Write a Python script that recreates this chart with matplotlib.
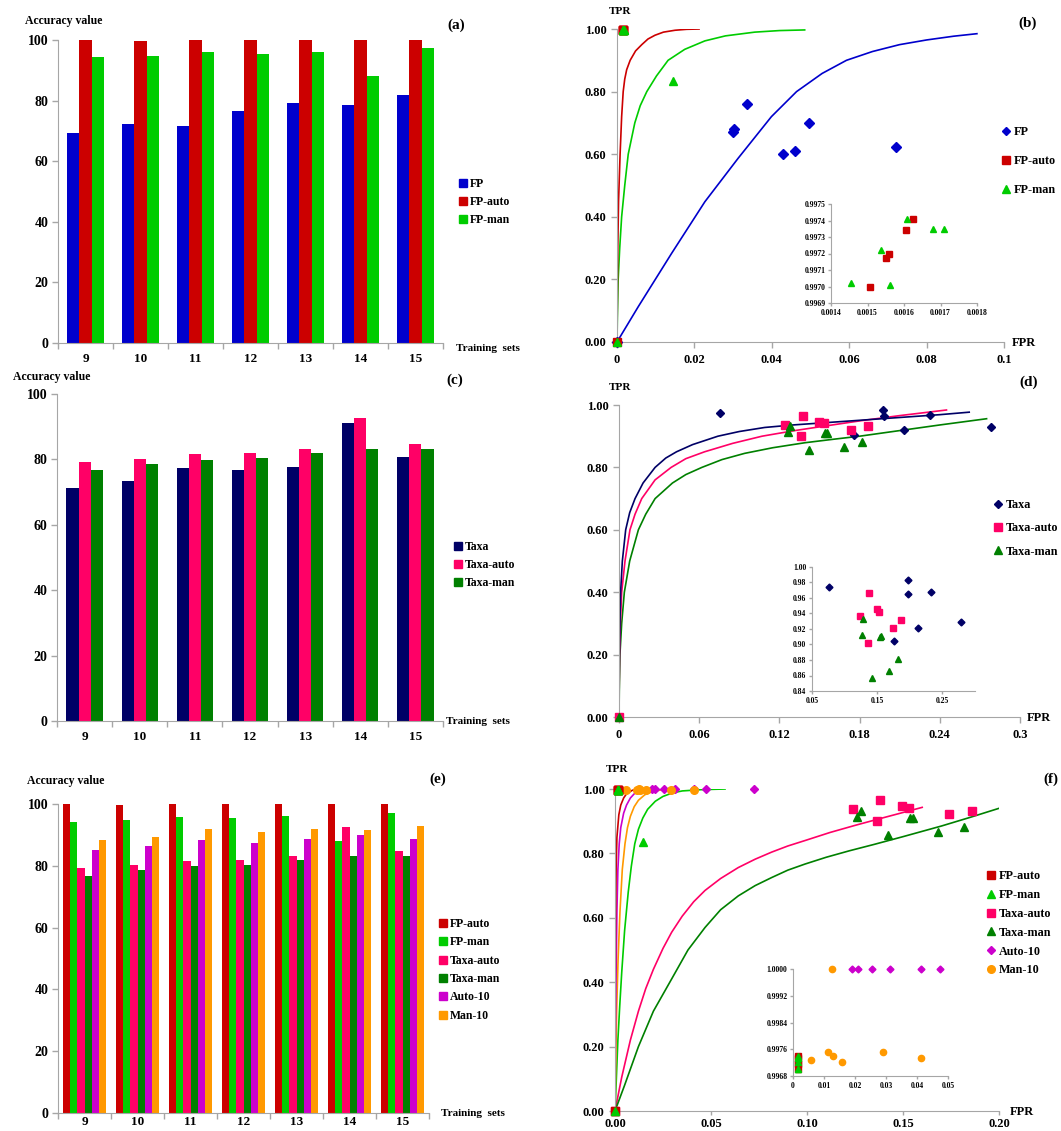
import numpy as np
import matplotlib.pyplot as plt
from matplotlib.patches import Patch
from matplotlib.lines import Line2D

plt.rcParams['font.family'] = ['Liberation Serif', 'DejaVu Serif']
plt.rcParams['font.weight'] = 'bold'

# ---- accuracy bars (training sets 9..15) ----
sets = ['9', '10', '11', '12', '13', '14', '15']
acc_fp = [69.2, 72.2, 71.6, 76.6, 79.1, 78.7, 81.7]
acc_fp_auto = [100, 99.7, 100, 100, 100, 100, 100]
acc_fp_man = [94.3, 94.8, 95.9, 95.4, 96.0, 88.0, 97.2]
acc_taxa = [71.2, 73.3, 77.4, 76.9, 77.8, 91.0, 80.6]
acc_taxa_auto = [79.3, 80.1, 81.5, 82.0, 83.3, 92.7, 84.7]
acc_taxa_man = [76.7, 78.5, 79.8, 80.4, 81.9, 83.2, 83.3]
acc_auto10 = [85.0, 86.3, 88.5, 87.3, 88.8, 90.1, 88.8]
acc_man10 = [88.3, 89.2, 92.0, 90.8, 92.0, 91.7, 92.9]

# ---- ROC points (FPR, TPR) ----
fp_fpr = [0, 0.0301, 0.0302, 0.0337, 0.0429, 0.0461, 0.0495, 0.072]
fp_tpr = [0, 0.670, 0.680, 0.761, 0.600, 0.611, 0.700, 0.623]
fp_auto_fpr = [0, 0.001624, 0.001605, 0.00156, 0.001552, 0.001507]
fp_auto_tpr = [0, 0.99741, 0.99734, 0.99720, 0.99717, 0.99700]
fp_man_fpr = [0, 0.001609, 0.00168, 0.00171, 0.001538, 0.001455, 0.001563, 0.01436]
fp_man_tpr = [0, 0.99741, 0.99735, 0.99735, 0.99722, 0.99702, 0.99701, 0.834]
taxa_fpr = [0, 0.0754, 0.1976, 0.198, 0.176, 0.213, 0.233, 0.2785]
taxa_tpr = [0, 0.9745, 0.983, 0.965, 0.905, 0.921, 0.968, 0.929]
taxa_auto_fpr = [0, 0.124, 0.138, 0.1365, 0.1497, 0.153, 0.1737, 0.186]
taxa_auto_tpr = [0, 0.937, 0.966, 0.902, 0.946, 0.942, 0.921, 0.932]
taxa_man_fpr = [0, 0.128, 0.1263, 0.142, 0.1538, 0.1554, 0.168, 0.182]
taxa_man_tpr = [0, 0.933, 0.912, 0.857, 0.910, 0.911, 0.866, 0.881]
auto10_fpr = [0, 0.0191, 0.021, 0.0255, 0.0313, 0.0412, 0.0475, 0.0726]
auto10_tpr = [0, 1.0, 1.0, 1.0, 1.0, 1.0, 1.0, 1.0]
man10_fpr = [0, 0.0057, 0.0114, 0.0126, 0.013, 0.0159, 0.029, 0.0412]
man10_tpr = [0, 0.99727, 0.99751, 1.0, 0.99741, 0.99722, 0.99751, 0.99734]

# ---- fitted ROC curves ----
b_fp_x = [0, 0.0055, 0.0141, 0.0227, 0.0313, 0.0399, 0.0464, 0.053, 0.0593, 0.066, 0.073, 0.08,
          0.087, 0.093]
b_fp_y = [0, 0.113, 0.283, 0.448, 0.587, 0.72, 0.80, 0.858, 0.9, 0.928, 0.95, 0.965, 0.977, 0.985]
b_auto_x = [0, 0.0001, 0.0002, 0.0004, 0.0008, 0.0012, 0.0016, 0.002, 0.0025, 0.0034, 0.0048,
            0.0064, 0.008, 0.0098, 0.012, 0.015, 0.018, 0.0212]
b_auto_y = [0, 0.15, 0.3, 0.45, 0.6, 0.72, 0.8, 0.84, 0.87, 0.9, 0.93, 0.95, 0.968, 0.98, 0.99,
            0.996, 0.999, 1.0]
b_man_x = [0, 0.0001, 0.0003, 0.0007, 0.0012, 0.002, 0.0029, 0.0046, 0.006, 0.0077, 0.0102, 0.0132,
           0.0175, 0.0227, 0.028, 0.0356, 0.042, 0.0485]
b_man_y = [0, 0.08, 0.2, 0.3, 0.4, 0.5, 0.6, 0.7, 0.755, 0.8, 0.85, 0.9, 0.935, 0.962, 0.978,
           0.99, 0.995, 0.997]

d_taxa_x = [0, 0.0001, 0.0003, 0.0007, 0.0012, 0.0025, 0.005, 0.008, 0.012, 0.018, 0.027, 0.035,
            0.043, 0.055, 0.074, 0.09, 0.109, 0.13, 0.15, 0.18, 0.21, 0.24, 0.262]
d_taxa_y = [0, 0.1, 0.2, 0.3, 0.4, 0.5, 0.6, 0.655, 0.7, 0.75, 0.8, 0.83, 0.85, 0.873, 0.9, 0.915,
            0.928, 0.936, 0.942, 0.951, 0.96, 0.969, 0.977]
d_auto_x = [0, 0.0001, 0.0004, 0.001, 0.002, 0.0045, 0.0082, 0.012, 0.017, 0.027, 0.039, 0.05,
            0.064, 0.085, 0.107, 0.13, 0.15, 0.18, 0.21, 0.245]
d_auto_y = [0, 0.08, 0.2, 0.3, 0.4, 0.5, 0.6, 0.65, 0.7, 0.76, 0.8, 0.828, 0.85, 0.877, 0.9, 0.917,
            0.93, 0.949, 0.966, 0.984]
d_man_x = [0, 0.0002, 0.0007, 0.002, 0.004, 0.008, 0.0145, 0.02, 0.027, 0.04, 0.05, 0.062, 0.077,
           0.094, 0.115, 0.139, 0.16, 0.18, 0.21, 0.24, 0.275]
d_man_y = [0, 0.08, 0.2, 0.3, 0.4, 0.5, 0.6, 0.65, 0.7, 0.75, 0.777, 0.8, 0.825, 0.845, 0.863,
           0.879, 0.89, 0.9, 0.918, 0.936, 0.956]

f_fpauto_x = [0, 0.0001, 0.0003, 0.0006, 0.001, 0.002, 0.003, 0.0045, 0.006, 0.009, 0.0122]
f_fpauto_y = [0, 0.3, 0.6, 0.76, 0.85, 0.92, 0.95, 0.972, 0.985, 0.996, 1.0]
f_fpman_x = [0, 0.0007, 0.0015, 0.0025, 0.0035, 0.005, 0.0069, 0.0085, 0.0103, 0.0122, 0.0145,
             0.017, 0.021, 0.025, 0.03, 0.035, 0.045, 0.0573]
f_fpman_y = [0, 0.1, 0.22, 0.33, 0.43, 0.56, 0.68, 0.76, 0.83, 0.875, 0.91, 0.937, 0.962, 0.977,
             0.988, 0.994, 0.998, 1.0]
f_taxaauto_x = [0, 0.0035, 0.008, 0.0122, 0.016, 0.02, 0.025, 0.0295, 0.035, 0.041, 0.0469, 0.055,
                0.0642, 0.073, 0.0816, 0.09, 0.099, 0.112, 0.125, 0.138, 0.15, 0.16]
f_taxaauto_y = [0, 0.105, 0.22, 0.31, 0.38, 0.44, 0.505, 0.555, 0.605, 0.65, 0.685, 0.722, 0.756,
                0.782, 0.804, 0.823, 0.84, 0.865, 0.887, 0.908, 0.927, 0.943]
f_taxaman_x = [0, 0.005, 0.0122, 0.02, 0.0295, 0.038, 0.0469, 0.055, 0.0642, 0.073, 0.0816, 0.09,
               0.099, 0.11, 0.122, 0.135, 0.15, 0.17, 0.185, 0.2]
f_taxaman_y = [0, 0.08, 0.2, 0.31, 0.41, 0.5, 0.57, 0.625, 0.668, 0.7, 0.725, 0.748, 0.767, 0.788,
               0.808, 0.828, 0.852, 0.885, 0.912, 0.94]
f_auto10_x = [0, 0.0002, 0.0005, 0.001, 0.0015, 0.0022, 0.003, 0.0045, 0.006, 0.008, 0.01, 0.0128,
              0.0156]
f_auto10_y = [0, 0.2, 0.4, 0.62, 0.75, 0.83, 0.88, 0.925, 0.95, 0.972, 0.985, 0.994, 0.998]
f_man10_x = [0, 0.0003, 0.0008, 0.0016, 0.0026, 0.0038, 0.0052, 0.0065, 0.008, 0.01, 0.0122, 0.0155,
             0.02, 0.025, 0.0295]
f_man10_y = [0, 0.12, 0.3, 0.47, 0.62, 0.75, 0.83, 0.88, 0.915, 0.945, 0.965, 0.982, 0.993, 0.998,
             1.0]

C_FP = '#0000CC'
C_FPA = '#CC0000'
C_FPM = '#00CC00'
C_TX = '#000066'
C_TXA = '#FF0066'
C_TXM = '#008000'
C_A10 = '#CC00CC'
C_M10 = '#FF9900'
GRAY = '#a6a6a6'

W, H = 1061, 1131
fig = plt.figure(figsize=(W / 100, H / 100), dpi=100)


def add_ax(left, top, right, bottom):
    return fig.add_axes([left / W, 1 - bottom / H, (right - left) / W, (bottom - top) / H])


def ftext(x, y, s, size=8.5, ha='left'):
    fig.text(x / W, 1 - y / H, s, fontsize=size, fontweight='bold', ha=ha, va='center')


def style(ax, size=10, length=4):
    for side in ['top', 'right']:
        ax.spines[side].set_visible(False)
    for side in ['left', 'bottom']:
        ax.spines[side].set_color(GRAY)
    ax.tick_params(which='both', color=GRAY, labelcolor='black', labelsize=size,
                   length=length, width=1)


def bar_panel(box, series, colors, width, xpad=7):
    ax = add_ax(*box)
    x = np.arange(len(sets))
    n = len(series)
    for i, (vals, c) in enumerate(zip(series, colors)):
        ax.bar(x + (i - (n - 1) / 2) * width, vals, width, color=c)
    ax.set_xlim(-0.5, len(sets) - 0.5)
    ax.set_ylim(0, 100)
    ax.set_yticks(range(0, 101, 20))
    style(ax)
    ax.set_xticks(x)
    ax.set_xticklabels(sets)
    ax.set_xticks(np.arange(-0.5, len(sets)), minor=True)
    ax.tick_params(axis='x', which='major', length=0, pad=xpad, labelsize=9.5)
    ax.tick_params(axis='y', pad=3)
    return ax


def bar_legend(labels, colors, x, y, spacing):
    handles = [Patch(color=c) for c in colors]
    fig.legend(handles, labels, loc='upper left', bbox_to_anchor=(x / W, 1 - y / H),
               frameon=False, fontsize=8.5, handlelength=0.65, handleheight=0.65,
               handletextpad=0.3, labelspacing=spacing, borderpad=0, borderaxespad=0)


def marker_legend(specs, x, y, spacing):
    handles = [Line2D([], [], marker=m, color=c, linestyle='none', ms=ms) for _, c, m, ms in specs]
    fig.legend(handles, [s[0] for s in specs], loc='upper left',
               bbox_to_anchor=(x / W, 1 - y / H), frameon=False, fontsize=8.7,
               handlelength=0.7, handletextpad=0.3, labelspacing=spacing,
               borderpad=0, borderaxespad=0)


def roc_axes(box, xmax, xticks, xlabels, xpad=5):
    ax = add_ax(*box)
    ax.set_xlim(0, xmax)
    ax.set_ylim(0, 1)
    ax.set_xticks(xticks)
    ax.set_xticklabels(xlabels)
    ax.set_yticks(np.arange(0, 1.01, 0.2))
    ax.set_yticklabels(['%.2f' % v for v in np.arange(0, 1.01, 0.2)])
    style(ax, size=9)
    ax.tick_params(axis='x', pad=xpad)
    return ax


def inset_axes(box, xlim, xticks, xlabels, ylim, yticks, yfmt):
    ax = add_ax(*box)
    ax.set_xlim(*xlim)
    ax.set_ylim(*ylim)
    ax.set_xticks(xticks)
    ax.set_xticklabels(xlabels)
    ax.set_yticks(yticks)
    ax.set_yticklabels([yfmt % v for v in yticks])
    style(ax, size=5.5, length=2)
    ax.tick_params(pad=2)
    ax.patch.set_visible(False)
    return ax


def pts(ax, x, y, c, m, ms, clip=False):
    ax.plot(x, y, linestyle='none', marker=m, color=c, ms=ms, clip_on=clip, zorder=5)


def in_range(x, y, xlo, xhi):
    x = np.asarray(x)
    y = np.asarray(y)
    keep = (x > xlo) & (x <= xhi)
    return x[keep], y[keep]


# ---------------- (a) ----------------
bar_panel((58, 40, 443, 343), [acc_fp, acc_fp_auto, acc_fp_man], [C_FP, C_FPA, C_FPM], 0.22)
bar_legend(['FP', 'FP-auto', 'FP-man'], [C_FP, C_FPA, C_FPM], 459, 178, 0.52)
ftext(25, 21, 'Accuracy value')
ftext(456, 25, '(a)', size=11, ha='center')
ftext(456, 349, 'Training  sets', size=8)

# ---------------- (c) ----------------
bar_panel((57, 394, 443, 721), [acc_taxa, acc_taxa_auto, acc_taxa_man], [C_TX, C_TXA, C_TXM], 0.22)
bar_legend(['Taxa', 'Taxa-auto', 'Taxa-man'], [C_TX, C_TXA, C_TXM], 454, 541, 0.52)
ftext(13, 377, 'Accuracy value')
ftext(455, 380, '(c)', size=11, ha='center')
ftext(446, 721, 'Training  sets', size=8)

# ---------------- (e) ----------------
e_series = [acc_fp_auto, acc_fp_man, acc_taxa_auto, acc_taxa_man, acc_auto10, acc_man10]
e_colors = [C_FPA, C_FPM, C_TXA, C_TXM, C_A10, C_M10]
bar_panel((58, 804, 429, 1113), e_series, e_colors, 0.134, xpad=2)
bar_legend(['FP-auto', 'FP-man', 'Taxa-auto', 'Taxa-man', 'Auto-10', 'Man-10'], e_colors,
           439, 918, 0.54)
ftext(27, 781, 'Accuracy value')
ftext(438, 779, '(e)', size=11, ha='center')
ftext(441, 1113, 'Training  sets', size=8)

# ---------------- (b) ----------------
ax = roc_axes((617, 29, 1004, 342), 0.1, [0, 0.02, 0.04, 0.06, 0.08, 0.1],
              ['0', '0.02', '0.04', '0.06', '0.08', '0.1'])
ax.plot(b_fp_x, b_fp_y, color=C_FP, lw=1.2)
ax.plot(b_man_x, b_man_y, color=C_FPM, lw=1.2)
ax.plot(b_auto_x, b_auto_y, color=C_FPA, lw=1.2)
pts(ax, fp_fpr, fp_tpr, C_FP, 'D', 5)
pts(ax, fp_auto_fpr, fp_auto_tpr, C_FPA, 's', 6)
pts(ax, fp_man_fpr, fp_man_tpr, C_FPM, '^', 6)
marker_legend([('FP', C_FP, 'D', 4.5), ('FP-auto', C_FPA, 's', 6), ('FP-man', C_FPM, '^', 6)],
              1002, 126, 1.4)
ftext(620, 12, 'TPR', size=8, ha='center')
ftext(1028, 23, '(b)', size=11, ha='center')
ftext(1024, 343, 'FPR', size=9, ha='center')

xt = [0.0014, 0.0015, 0.0016, 0.0017, 0.0018]
axi = inset_axes((831, 204, 977, 303), (0.0014, 0.0018), xt, ['%.4f' % v for v in xt],
                 (0.9969, 0.9975), np.arange(0.9969, 0.99751, 0.0001), '%.4f')
pts(axi, fp_auto_fpr, fp_auto_tpr, C_FPA, 's', 4.5, clip=True)
pts(axi, fp_man_fpr, fp_man_tpr, C_FPM, '^', 4.5, clip=True)

# ---------------- (d) ----------------
ax = roc_axes((619, 405, 1020, 717), 0.3, [0, 0.06, 0.12, 0.18, 0.24, 0.3],
              ['0', '0.06', '0.12', '0.18', '0.24', '0.3'])
ax.plot(d_man_x, d_man_y, color=C_TXM, lw=1.2)
ax.plot(d_auto_x, d_auto_y, color=C_TXA, lw=1.2)
ax.plot(d_taxa_x, d_taxa_y, color=C_TX, lw=1.2)
pts(ax, taxa_fpr, taxa_tpr, C_TX, 'D', 4.5)
pts(ax, taxa_auto_fpr, taxa_auto_tpr, C_TXA, 's', 6)
pts(ax, taxa_man_fpr, taxa_man_tpr, C_TXM, '^', 6)
marker_legend([('Taxa', C_TX, 'D', 4.5), ('Taxa-auto', C_TXA, 's', 6), ('Taxa-man', C_TXM, '^', 6)],
              994, 499, 0.94)
ftext(620, 387, 'TPR', size=8, ha='center')
ftext(1029, 382, '(d)', size=11, ha='center')
ftext(1039, 718, 'FPR', size=9, ha='center')

axi = inset_axes((812, 567, 975, 691), (0.05, 0.30), [0.05, 0.15, 0.25], ['0.05', '0.15', '0.25'],
                 (0.84, 1.0), np.arange(0.84, 1.001, 0.02), '%.2f')
pts(axi, taxa_fpr, taxa_tpr, C_TX, 'D', 3.5, clip=True)
pts(axi, taxa_auto_fpr, taxa_auto_tpr, C_TXA, 's', 4.5, clip=True)
pts(axi, taxa_man_fpr, taxa_man_tpr, C_TXM, '^', 4.5, clip=True)

# ---------------- (f) ----------------
ax = roc_axes((615, 789, 999, 1111), 0.2, [0, 0.05, 0.10, 0.15, 0.20],
              ['0.00', '0.05', '0.10', '0.15', '0.20'], xpad=2)
ax.tick_params(axis='x', length=3)
ax.plot(f_taxaauto_x, f_taxaauto_y, color=C_TXA, lw=1.2)
ax.plot(f_taxaman_x, f_taxaman_y, color=C_TXM, lw=1.2)
ax.plot(f_fpman_x, f_fpman_y, color=C_FPM, lw=1.2)
ax.plot(f_man10_x, f_man10_y, color=C_M10, lw=1.2)
ax.plot(f_auto10_x, f_auto10_y, color=C_A10, lw=1.2)
ax.plot(f_fpauto_x, f_fpauto_y, color=C_FPA, lw=1.2)
pts(ax, taxa_auto_fpr, taxa_auto_tpr, C_TXA, 's', 6)
pts(ax, taxa_man_fpr, taxa_man_tpr, C_TXM, '^', 6)
pts(ax, auto10_fpr, auto10_tpr, C_A10, 'D', 4)
pts(ax, man10_fpr, man10_tpr, C_M10, 'o', 5.5)
pts(ax, fp_auto_fpr, fp_auto_tpr, C_FPA, 's', 6)
pts(ax, fp_man_fpr, fp_man_tpr, C_FPM, '^', 6)
marker_legend([('FP-auto', C_FPA, 's', 6), ('FP-man', C_FPM, '^', 6), ('Taxa-auto', C_TXA, 's', 6),
               ('Taxa-man', C_TXM, '^', 6), ('Auto-10', C_A10, 'D', 4), ('Man-10', C_M10, 'o', 5.5)],
              987, 870, 0.57)
ftext(617, 770, 'TPR', size=8, ha='center')
ftext(1051, 779, '(f)', size=11, ha='center')
ftext(1022, 1112, 'FPR', size=9, ha='center')

axi = inset_axes((793, 969, 948, 1076), (0, 0.05), [0, 0.01, 0.02, 0.03, 0.04, 0.05],
                 ['0', '0.01', '0.02', '0.03', '0.04', '0.05'],
                 (0.9968, 1.0), np.arange(0.9968, 1.00001, 0.0008), '%.4f')
pts(axi, *in_range(auto10_fpr, auto10_tpr, 0, 0.05), C_A10, 'D', 3.5)
pts(axi, *in_range(man10_fpr, man10_tpr, 0, 0.05), C_M10, 'o', 4.5)
pts(axi, *in_range(fp_auto_fpr, fp_auto_tpr, 0, 0.002), C_FPA, 's', 4.5)
pts(axi, *in_range(fp_man_fpr, fp_man_tpr, 0, 0.002), C_FPM, '^', 4.5)

fig.savefig('out.png', dpi=100)
